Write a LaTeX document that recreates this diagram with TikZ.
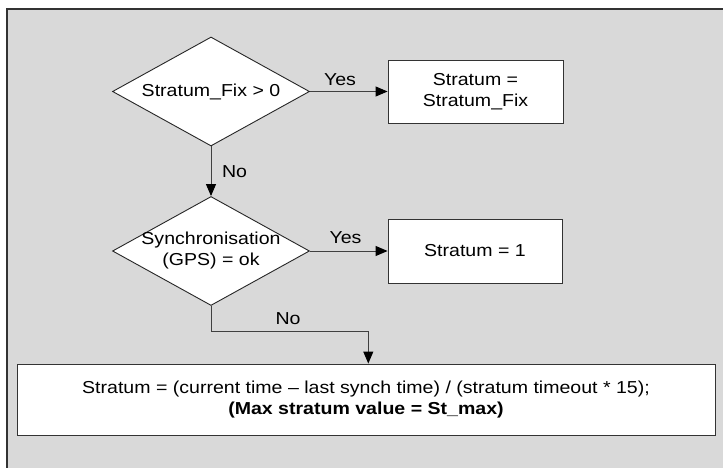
\documentclass[tikz,border=0pt]{standalone}
\usepackage{fontspec}
\setmainfont{Liberation Sans}[FakeStretch=1.13]
\usetikzlibrary{shapes.geometric,arrows.meta}
\definecolor{bggray}{RGB}{217,217,217}
\definecolor{framecol}{RGB}{50,50,50}
\definecolor{linecol}{RGB}{64,64,64}
\tikzset{
  dia/.style={diamond,draw=black!85,fill=white,line width=0.9pt,minimum width=197pt,minimum height=109pt,inner sep=0pt},
  procbox/.style={rectangle,draw=black!80,fill=white,line width=0.9pt,inner sep=0pt,align=center},
  txt/.style={inner sep=0pt,align=center},
  conn/.style={draw=linecol,line width=1pt,-{Triangle[length=12pt,width=10pt,color=black]}},
  lbl/.style={inner sep=0pt}
}
\begin{document}
\begin{tikzpicture}[x=1pt,y=-1pt,font=\fontsize{17.3}{21}\selectfont]
\useasboundingbox (0,0) rectangle (723,468);
\fill[bggray] (7,9) rectangle (730,475);
\draw[framecol,line width=1.5pt] (7,475) -- (7,9) -- (730,9);

\node[dia] (d1) at (211,91.5) {};
\node[txt] (t1) at (d1.center) {Stratum\_Fix > 0};
\node[dia] (d2) at (211,251) {};
\node[txt] (t2) at (d2.center) {Synchronisation\\(GPS) = ok};

\node[procbox,minimum width=175pt,minimum height=63pt] (b1) at (475.5,91.5) {Stratum =\\Stratum\_Fix};
\node[procbox,minimum width=174pt,minimum height=64pt] (b2) at (475,251) {Stratum = 1};
\node[procbox,minimum width=698pt,minimum height=71pt] (b3) at (366,399.5) {Stratum = (current time – last synch time) / (stratum timeout * 15);\\\textbf{(Max stratum value = St\_max)}};

\coordinate (c1) at (368.3,331.7);
\coordinate (c0) at (211,331.7);

\draw[conn] (d1.east) -- (b1.west);
\draw[conn] (d1.south) -- (d2.north);
\draw[conn] (d2.east) -- (b2.west);
\draw[conn] (d2.south) -- (c0) -- (c1) -- (c1 |- b3.north);

\node[lbl] (y1) at (340,80) {Yes};
\node[lbl] (n1) at (234.5,171.7) {No};
\node[lbl] (y2) at (345.5,238) {Yes};
\node[lbl] (n2) at (288,319) {No};
\end{tikzpicture}
\end{document}
